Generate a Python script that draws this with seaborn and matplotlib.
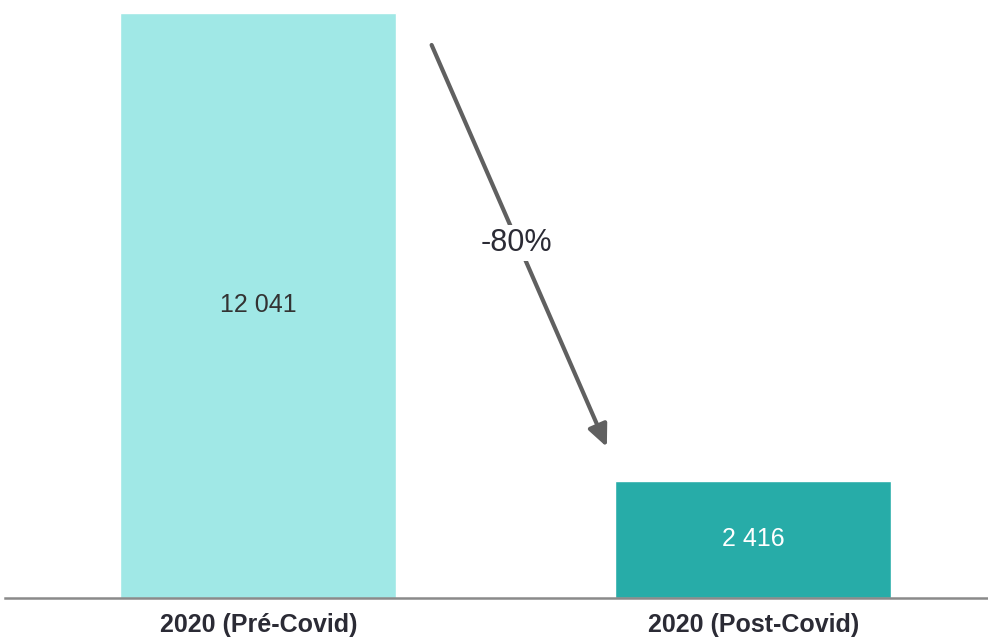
import matplotlib
matplotlib.use("Agg")
import matplotlib.pyplot as plt
import seaborn as sns
import pandas as pd

# chart data
periods = ["2020 (Pré-Covid)", "2020 (Post-Covid)"]
values = [12041, 2416]
value_labels = ["12 041", "2 416"]
change_label = "-80%"

bar_colors = ["#A0E8E6", "#27ACA8"]
label_colors = ["#333333", "#FFFFFF"]

sns.set_theme(style="white")
plt.rcParams["font.family"] = ["Liberation Sans", "DejaVu Sans"]

df = pd.DataFrame({"period": periods, "value": values})

fig = plt.figure(figsize=(9.88, 6.39), dpi=100)
ax = fig.add_axes([0.005, 0.0642, 0.995, 0.9358])

sns.barplot(data=df, x="period", y="value", hue="period", palette=bar_colors,
            width=0.558, legend=False, ax=ax, saturation=1)

ax.set_xlim(-0.512, 1.474)
ax.set_ylim(0, 12308)

# value labels centred in bars
for i, (v, lab) in enumerate(zip(values, value_labels)):
    ax.text(i, v / 2, lab, ha="center", va="center", fontsize=18,
            color=label_colors[i])

# change arrow
ax.annotate("", xy=(0.704, 3108), xytext=(0.350, 11382),
            arrowprops=dict(arrowstyle="-|>,head_length=1.1,head_width=0.5",
                            color="#606060", lw=3, shrinkA=0, shrinkB=0))
ax.text(0.522, 7307, change_label, ha="center", va="center", fontsize=22,
        color="#2B2B35",
        bbox=dict(facecolor="white", edgecolor="none", pad=2))

for s in ["top", "right", "left"]:
    ax.spines[s].set_visible(False)
ax.spines["bottom"].set_color("#8A8A8A")
ax.spines["bottom"].set_linewidth(1.8)

ax.set_yticks([])
ax.set_xlabel("")
ax.set_ylabel("")
ax.tick_params(axis="x", length=0, pad=11)
for t in ax.get_xticklabels():
    t.set_fontweight("bold")
    t.set_fontsize(18)
    t.set_color("#2B2B35")

fig.savefig("out.png", dpi=100)
